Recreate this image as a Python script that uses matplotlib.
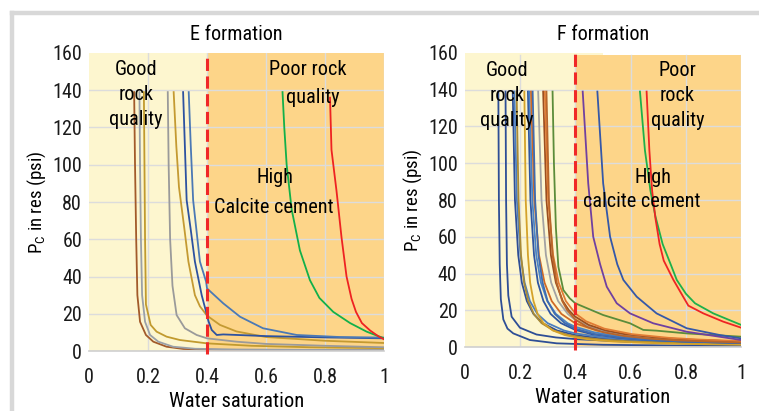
import matplotlib
matplotlib.use("Agg")
import matplotlib.pyplot as plt
from matplotlib import font_manager
from matplotlib.lines import Line2D
from matplotlib.patches import Rectangle

# ---- E formation: capillary pressure curves (water saturation, Pc in psi) ----
E_SW = [
    [0.153, 0.156, 0.160, 0.164, 0.173, 0.193, 0.218, 0.263, 0.32, 0.45, 0.7, 1.0],
    [0.171, 0.173, 0.176, 0.180, 0.190, 0.207, 0.235, 0.285, 0.36, 0.5, 0.75, 1.0],
    [0.186, 0.188, 0.190, 0.193, 0.209, 0.229, 0.263, 0.308, 0.40, 0.55, 0.75, 1.0],
    [0.267, 0.270, 0.275, 0.283, 0.297, 0.325, 0.365, 0.40, 0.5, 0.6, 0.8, 1.0],
    [0.287, 0.296, 0.305, 0.323, 0.337, 0.359, 0.376, 0.40, 0.444, 0.50, 0.60, 0.8, 1.0],
    [0.319, 0.325, 0.331, 0.345, 0.359, 0.382, 0.397, 0.405, 0.416, 0.433, 0.455, 0.6, 0.8, 1.0],
    [0.338, 0.345, 0.353, 0.376, 0.397, 0.40, 0.455, 0.512, 0.59, 0.704, 0.85, 1.0],
    [0.656, 0.662, 0.670, 0.687, 0.715, 0.749, 0.781, 0.828, 0.885, 0.941, 1.0],
    [0.817, 0.822, 0.839, 0.856, 0.873, 0.890, 0.905, 0.925, 0.953, 0.98, 1.0],
]
E_PC = [
    [139, 100, 60, 30, 15.7, 8.6, 5, 2.3, 1.1, 0.6, 0.4, 0.3],
    [139, 100, 60, 30, 15.7, 8.6, 5, 2.3, 1.2, 0.8, 0.6, 0.5],
    [139, 100, 60, 25, 14, 10.4, 7.7, 5.9, 4.1, 2.8, 2.0, 1.5],
    [139, 100, 60, 35, 19.3, 12.2, 8.6, 6.8, 5, 3.8, 2.8, 2.0],
    [139, 110, 88, 66, 48, 30, 24, 19, 14, 10.5, 7.5, 5.5, 4.3],
    [139, 110, 81, 65, 48, 30, 21, 16, 11.3, 8.6, 8.9, 8, 7.3, 6.8],
    [139, 110, 81, 48, 37.2, 33.6, 25.6, 18.4, 12.2, 8.6, 7.5, 7.2],
    [139, 120, 100, 76, 54, 38, 28.5, 21, 15, 10.4, 6.8],
    [136, 108, 86, 61, 40, 28, 21, 15, 11, 8, 6.3],
]
E_COLORS = ["#A25A2A", "#9AA0A8", "#C19A2E", "#9A9A9A", "#C49A32",
            "#2D52A0", "#4B79B5", "#12B04A", "#EE2222"]

# ---- F formation ----
F_SW = [
    [0.122, 0.124, 0.127, 0.131, 0.140, 0.155, 0.176, 0.236, 0.333, 0.5, 0.75, 1.0],
    [0.148, 0.150, 0.153, 0.158, 0.170, 0.200, 0.26, 0.33, 0.40, 0.6, 0.8, 1.0],
    [0.174, 0.182, 0.194, 0.207, 0.225, 0.249, 0.282, 0.334, 0.400, 0.472, 0.549, 0.677, 0.864, 1.0],
    [0.180, 0.189, 0.202, 0.217, 0.236, 0.263, 0.300, 0.359, 0.400, 0.512, 0.598, 0.741, 0.949, 1.0],
    [0.188, 0.195, 0.204, 0.215, 0.230, 0.250, 0.278, 0.321, 0.376, 0.435, 0.500, 0.606, 0.820, 1.0],
    [0.216, 0.221, 0.229, 0.237, 0.249, 0.264, 0.285, 0.319, 0.362, 0.408, 0.457, 0.540, 0.706, 0.872, 1.0],
    [0.229, 0.238, 0.251, 0.265, 0.285, 0.311, 0.348, 0.400, 0.460, 0.558, 0.643, 0.785, 1.0],
    [0.234, 0.245, 0.259, 0.276, 0.299, 0.330, 0.372, 0.400, 0.468, 0.550, 0.661, 0.786, 1.0],
    [0.240, 0.252, 0.269, 0.289, 0.315, 0.350, 0.400, 0.477, 0.549, 0.679, 0.793, 1.0],
    [0.246, 0.255, 0.267, 0.282, 0.300, 0.326, 0.362, 0.400, 0.471, 0.566, 0.649, 0.787, 1.0],
    [0.266, 0.278, 0.294, 0.313, 0.338, 0.373, 0.400, 0.471, 0.565, 0.691, 0.801, 1.0],
    [0.284, 0.296, 0.312, 0.330, 0.355, 0.377, 0.400, 0.449, 0.510, 0.579, 0.703, 0.811, 1.0],
    [0.290, 0.302, 0.320, 0.340, 0.366, 0.400, 0.439, 0.505, 0.605, 0.737, 0.853, 1.0],
    [0.296, 0.305, 0.318, 0.333, 0.353, 0.371, 0.400, 0.442, 0.502, 0.575, 0.672, 0.783, 1.0],
    [0.318, 0.323, 0.330, 0.339, 0.357, 0.380, 0.400, 0.501, 0.598, 0.646, 0.694, 0.803, 1.0],
    [0.427, 0.447, 0.465, 0.490, 0.514, 0.550, 0.598, 0.682, 0.803, 1.0],
    [0.480, 0.501, 0.526, 0.552, 0.574, 0.622, 0.694, 0.803, 0.923, 1.0],
    [0.634, 0.652, 0.672, 0.690, 0.716, 0.745, 0.767, 0.800, 0.833, 0.899, 1.0],
    [0.658, 0.668, 0.678, 0.690, 0.705, 0.720, 0.755, 0.780, 0.809, 0.863, 0.935, 1.0],
]
F_PC = [
    [139, 80, 45, 26, 15, 10, 7.4, 3.8, 2.0, 1.2, 0.8, 0.5],
    [139, 80, 45, 28, 16.5, 10.5, 6.8, 5.2, 4.3, 2.8, 2.0, 1.5],
    [139, 80, 50, 35, 25, 18, 13, 9, 6.5, 5, 4, 3, 2.2, 1.84],
    [139, 80, 50, 35, 25, 18, 13, 9, 7.4, 5, 4, 3, 2.2, 2.07],
    [139, 80, 50, 35, 25, 18, 13, 9, 6.5, 5, 4, 3, 2, 1.56],
    [139, 80, 50, 35, 25, 18, 13, 9, 6.5, 5, 4, 3, 2, 1.5, 1.26],
    [139, 80, 50, 35, 25, 18, 13, 9.3, 7, 5, 4, 3, 2.18],
    [139, 80, 50, 35, 25, 18, 13, 11, 8, 6, 4.5, 3.5, 2.54],
    [139, 80, 50, 35, 25, 18, 12.9, 9, 7, 5, 4, 2.93],
    [139, 80, 50, 35, 25, 18, 13, 10, 7, 5, 4, 3, 2.17],
    [139, 80, 50, 35, 25, 18, 14.7, 10, 7, 5, 4, 2.94],
    [139, 80, 50, 35, 25, 20, 16.5, 12, 9, 7, 5, 4, 2.97],
    [139, 80, 50, 35, 25, 18.3, 14, 10, 7, 5, 4, 3.19],
    [139, 80, 50, 35, 25, 20, 15, 11, 8, 6, 4.5, 3.5, 2.44],
    [139, 100, 65, 43.7, 31, 26.5, 23.8, 17.4, 12.9, 9.3, 8.9, 7.4, 5.6],
    [139, 89, 60, 45, 32.8, 23.8, 18.3, 12.9, 8.3, 3.8],
    [139, 89, 60, 45, 36.5, 27.4, 18.3, 10.2, 6.5, 4.7],
    [139, 107, 85, 71, 56, 45, 36.5, 29, 23.8, 18.3, 12],
    [139, 107, 85, 70, 56, 47, 36.5, 30, 22.5, 18.3, 13.8, 10.5],
]
F_COLORS = ["#2E4E96", "#2E4E96", "#2E4E96", "#4B7EBF", "#A98A35",
            "#D4A22A", "#2F55A0", "#4B83C4", "#D06A25", "#3E6BB0",
            "#A3A3A3", "#9B4E1F", "#E07B34", "#B8652A", "#5B8C3A",
            "#7040A0", "#3558A8", "#1DB04B", "#EE2424"]

CUTOFF_SW = 0.4
YTICKS = [0, 20, 40, 60, 80, 100, 120, 140, 160]
XTICKS = [0, 0.2, 0.4, 0.6, 0.8, 1.0]
XTICK_LABELS = ["0", "0.2", "0.4", "0.6", "0.8", "1"]


def pick_font():
    """Prefer a narrow sans face; fall back to plain DejaVu."""
    prefs = [("Liberation Sans Narrow", None), ("Noto Sans Condensed", None),
             ("Noto Sans", "condensed"), ("Open Sans Condensed", None),
             ("Open Sans", "condensed"), ("Roboto Condensed", None),
             ("DejaVu Sans", "condensed"), ("Noto Sans", "semi-condensed")]
    for name, stretch in prefs:
        for f in font_manager.fontManager.ttflist:
            if f.name != name or f.style != "normal":
                continue
            if str(f.weight) not in ("400", "normal", "regular", "book"):
                continue
            if stretch is None or f.stretch == stretch:
                return f.name, f.stretch
    return "DejaVu Sans", "normal"


FONT, STRETCH = pick_font()
plt.rcParams["font.family"] = [FONT, "DejaVu Sans"]
plt.rcParams["font.stretch"] = STRETCH
plt.rcParams["mathtext.fontset"] = "custom"
plt.rcParams["mathtext.rm"] = FONT

YELLOW = "#FDF6CF"
ORANGE = "#FDD589"
GRID = "#DCDCDC"

fig = plt.figure(figsize=(7.59, 4.11), dpi=100)
fig.patch.set_facecolor("white")
renderer = fig.canvas.get_renderer()


def fit_size(s, width_px, max_pt):
    """Font size giving the string a set pixel width, capped by height."""
    t = fig.text(0, 0, s, fontsize=10)
    w = t.get_window_extent(renderer).width
    t.remove()
    return min(10 * width_px / w, max_pt)


TICK_PT = fit_size("160", 31, 14.5)
TITLE_PT = fit_size("E formation", 95, 14.5)
NOTE_PT = fit_size("Calcite cement", 118, 15.5)
XLAB_PT = fit_size("Water saturation", 134, 15)
YLAB_PT = fit_size("PC in res (psi)", 104, 14.5)


def draw_panel(ax, sws, pcs, colors, title, yellow_top=160, orange_top=160,
               yellow_right=CUTOFF_SW):
    ax.set_xlim(0, 1)
    ax.set_ylim(0, 160)
    ax.set_facecolor("none")
    ax.add_patch(Rectangle((0, 0), yellow_right, yellow_top, facecolor=YELLOW,
                           edgecolor="none", zorder=0))
    ax.add_patch(Rectangle((CUTOFF_SW, 0), 1 - CUTOFF_SW, orange_top,
                           facecolor=ORANGE, edgecolor="none", zorder=0.1))
    for y in YTICKS[1:-1]:
        ax.axhline(y, color=GRID, lw=1.0, zorder=0.5)
    for x in XTICKS[1:]:
        ax.plot([x, x], [0, orange_top], color=GRID, lw=1.0, zorder=0.5)
    for sw, pc, c in zip(sws, pcs, colors):
        ax.plot(sw, pc, color=c, lw=1.3, zorder=2, solid_joinstyle="round")
    ax.axvline(CUTOFF_SW, ymin=-0.01, ymax=1, color="#F02828", lw=2.2,
               dashes=(4, 1.8), zorder=3, clip_on=False)

    for s in ["top", "right", "left"]:
        ax.spines[s].set_visible(False)
    ax.spines["bottom"].set_color("#CFCFCF")
    ax.spines["bottom"].set_linewidth(1.2)
    ax.set_xticks(XTICKS)
    ax.set_xticklabels(XTICK_LABELS)
    ax.set_yticks(YTICKS)
    ax.tick_params(length=0, labelsize=TICK_PT, pad=5, colors="#1A1A1A")
    ax.tick_params(axis="x", pad=12)
    ax.set_title(title, fontsize=TITLE_PT, pad=9)
    ax.set_xlabel("Water saturation", fontsize=XLAB_PT, labelpad=4)
    ax.set_ylabel(r"P$_\mathregular{C}$ in res (psi)", fontsize=YLAB_PT, labelpad=3)


# outer frame: light grey rule along top and left
fig.add_artist(Line2D([12 / 759, 12 / 759], [0, 1 - 13 / 411], color="#D8D8D8",
                      lw=3.2, transform=fig.transFigure))
fig.add_artist(Line2D([12 / 759, 1], [1 - 13 / 411, 1 - 13 / 411], color="#D8D8D8",
                      lw=3.2, transform=fig.transFigure))

ax1 = fig.add_axes([89 / 759, 60 / 411, 295 / 759, 298 / 411])
ax2 = fig.add_axes([464.6 / 759, 64 / 411, 276.6 / 759, 294 / 411])

draw_panel(ax1, E_SW, E_PC, E_COLORS, "E formation")
draw_panel(ax2, F_SW, F_PC, F_COLORS, "F formation",
           yellow_top=160, orange_top=158.8, yellow_right=0.5)

txt = dict(fontsize=NOTE_PT, ha="center", va="center", zorder=5, linespacing=1.4)
ax1.text(0.16, 137.5, "Good\nrock\nquality", **txt)
ax1.text(0.74, 151, "Poor rock", **txt)
ax1.text(0.76, 136, "quality", **txt)
ax1.text(0.63, 93, "High", **txt)
ax1.text(0.625, 77, "Calcite cement", **txt)

ax2.text(0.153, 137, "Good\nrock\nquality", **txt)
ax2.text(0.77, 137, "Poor\nrock\nquality", **txt)
ax2.text(0.68, 92.5, "High", **txt)
ax2.text(0.64, 79, "calcite cement", **txt)

fig.savefig("out.png", dpi=100)
